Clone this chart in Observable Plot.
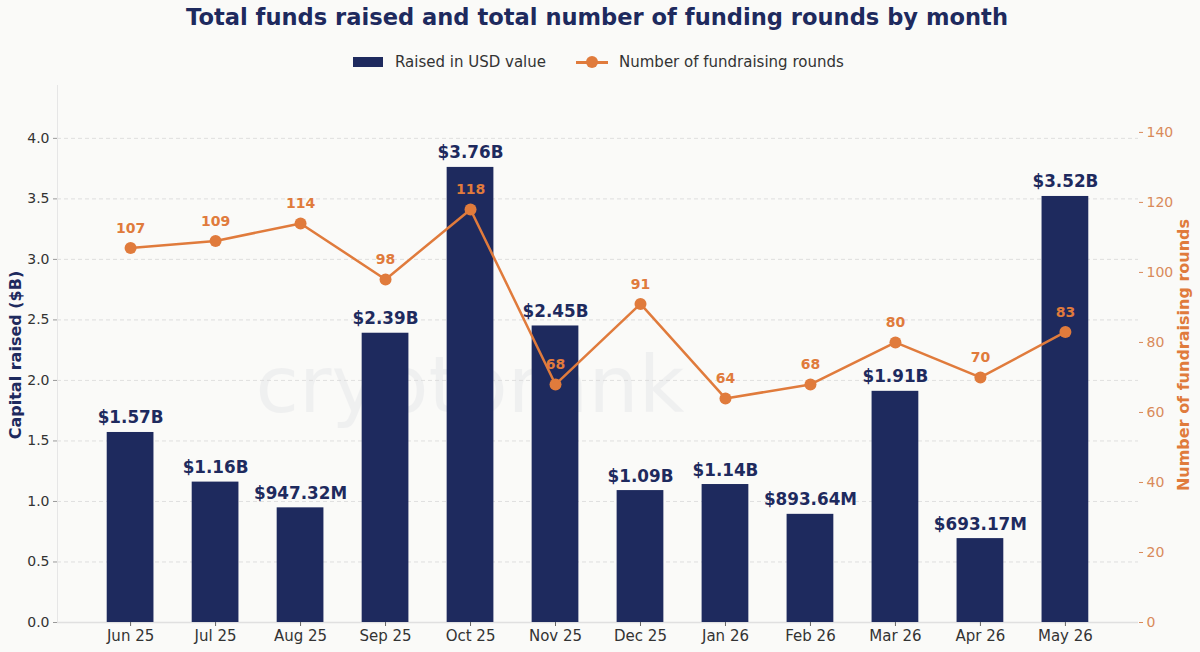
<!DOCTYPE html>
<html>
<head>
<meta charset="utf-8">
<script src="https://cdn.jsdelivr.net/npm/d3@7"></script>
<script src="https://cdn.jsdelivr.net/npm/@observablehq/plot@0.6"></script>
<style>
  html, body { margin: 0; padding: 0; background: #fafaf8; }
  #wrap { position: relative; width: 1200px; height: 652px; overflow: hidden; font-family: "DejaVu Sans", sans-serif; }
  #title { position: absolute; left: 0; width: 1194px; top: 4px; text-align: center; font-weight: bold; font-size: 22.6px; color: #1e2a5e; }
  #legend { position: absolute; top: 53px; left: 353px; display: flex; align-items: center; font-size: 15px; color: #333; }
  .sw-bar { width: 30px; height: 10px; background: #1e2a5e; margin-right: 12px; }
  .sw-line { position: relative; width: 32px; height: 12px; margin-right: 11px; margin-left: 30px; }
  .sw-line::before { content: ""; position: absolute; left: 0; right: 0; top: 5px; height: 2.5px; background: #e07b3c; }
  .sw-line::after { content: ""; position: absolute; left: 10px; top: 0; width: 12px; height: 12px; border-radius: 50%; background: #e07b3c; }
  .plot { position: absolute; left: 0; top: 80px; }
  #ylab { position: absolute; left: 15px; top: 355px; transform: translate(-50%, -50%) rotate(-90deg); white-space: nowrap; font-weight: bold; font-size: 16px; color: #1e2a5e; }
  #ylab2 { position: absolute; left: 1183px; top: 355px; transform: translate(-50%, -50%) rotate(-90deg); white-space: nowrap; font-weight: bold; font-size: 16px; color: #e07b3c; }
  #wm { position: absolute; left: 470px; top: 385px; transform: translate(-50%, -50%); font-size: 79px; color: #1e2a5e; opacity: 0.045; white-space: nowrap; }
</style>
</head>
<body>
<div id="wrap">
  <div id="wm">cryptorank</div>
  <div id="title">Total funds raised and total number of funding rounds by month</div>
  <div id="legend">
    <div class="sw-bar"></div><span>Raised in USD value</span>
    <div class="sw-line"></div><span>Number of fundraising rounds</span>
  </div>
  <div id="c1" class="plot"></div>
  <div id="c2" class="plot"></div>
  <div id="ylab">Capital raised ($B)</div>
  <div id="ylab2">Number of fundraising rounds</div>
</div>
<script>
const months = ["Jun 25","Jul 25","Aug 25","Sep 25","Oct 25","Nov 25","Dec 25","Jan 26","Feb 26","Mar 26","Apr 26","May 26"];
const raised = [1.57, 1.16, 0.94732, 2.39, 3.76, 2.45, 1.09, 1.14, 0.89364, 1.91, 0.69317, 3.52];
const raisedLabels = ["$1.57B","$1.16B","$947.32M","$2.39B","$3.76B","$2.45B","$1.09B","$1.14B","$893.64M","$1.91B","$693.17M","$3.52B"];
const rounds = [107, 109, 114, 98, 118, 68, 91, 64, 68, 80, 70, 83];
const leftTicks = [0, 0.5, 1.0, 1.5, 2.0, 2.5, 3.0, 3.5, 4.0];
const rightTicks = [0, 20, 40, 60, 80, 100, 120, 140];

const NAVY = "#1e2a5e";
const ORANGE = "#e07b3c";

const data = months.map((m, i) => ({month: m, raised: raised[i], label: raisedLabels[i], rounds: rounds[i]}));

const W = 1200, H = 572;
const margins = {marginLeft: 57, marginRight: 62, marginTop: 5, marginBottom: 30};
const xScale = {type: "band", domain: months, paddingInner: 0.45, paddingOuter: 0.585, round: false};

const p1 = Plot.plot({
  width: W, height: H, ...margins,
  style: {background: "transparent", fontFamily: "DejaVu Sans", fontSize: "14px", color: "#333"},
  x: xScale,
  y: {domain: [0, d3.max(raised) * 1.18]},
  marks: [
    Plot.gridY(leftTicks, {stroke: "#d8d8d8", strokeOpacity: 0.8, strokeDasharray: "4,3"}),
    Plot.frame({anchor: "left", stroke: "#e6e6e6"}),
    Plot.ruleY([0], {stroke: "#e0e0e0", strokeWidth: 1.5}),
    Plot.barY(data, {x: "month", y: "raised", fill: NAVY}),
    Plot.text(data, {x: "month", y: "raised", text: "label", lineAnchor: "bottom", dy: -9, fontWeight: "bold", fontSize: 16.8, fill: NAVY}),
    Plot.axisY(leftTicks, {tickFormat: d3.format(".1f"), tickSize: 4, tickPadding: 4, fontSize: 14, stroke: "#999", fill: "#333", label: null}),
    Plot.axisX({tickSize: 4, tickPadding: 4, fontSize: 15, stroke: "#666", fill: "#333", label: null})
  ]
});
document.getElementById("c1").appendChild(p1);

const p2 = Plot.plot({
  width: W, height: H, ...margins,
  style: {background: "transparent", fontFamily: "DejaVu Sans", fontSize: "14px"},
  x: {...xScale, axis: null},
  y: {domain: [0, d3.max(rounds) * 1.3], axis: null},
  marks: [
    Plot.axisY(rightTicks, {anchor: "right", tickSize: 4, tickPadding: 4, fontSize: 14, stroke: "#d98a5a", fill: "#d98a5a", label: null}),
    Plot.line(data, {x: "month", y: "rounds", stroke: ORANGE, strokeWidth: 2.5}),
    Plot.dot(data, {x: "month", y: "rounds", r: 6, fill: ORANGE, stroke: "none"}),
    Plot.text(data, {x: "month", y: "rounds", text: "rounds", lineAnchor: "bottom", dy: -15, fontWeight: "bold", fontSize: 14, fill: ORANGE})
  ]
});
document.getElementById("c2").appendChild(p2);
</script>
</body>
</html>
